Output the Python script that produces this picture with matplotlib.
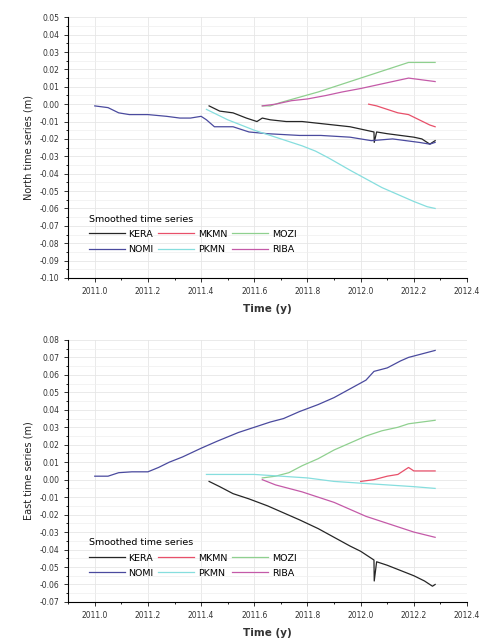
import numpy as np
import matplotlib.pyplot as plt
from matplotlib.ticker import MultipleLocator

# 数据: 平滑时间序列 (单位 m)
stations = ["KERA", "MKMN", "MOZI", "NOMI", "PKMN", "RIBA"]
colors = ["#262626", "#e8506a", "#8fd08f", "#4a4a9e", "#86dede", "#c45aa8"]

# ---- North ----
n_kera_t = [2011.43, 2011.47, 2011.52, 2011.57, 2011.61, 2011.63, 2011.66, 2011.72, 2011.78, 2011.84, 2011.90,
            2011.96, 2012.02, 2012.05, 2012.051, 2012.06, 2012.10, 2012.15, 2012.20, 2012.23, 2012.26, 2012.28]
n_kera_v = [-0.001, -0.004, -0.005, -0.008, -0.010, -0.008, -0.009, -0.010, -0.010, -0.011, -0.012,
            -0.013, -0.015, -0.016, -0.022, -0.016, -0.017, -0.018, -0.019, -0.020, -0.023, -0.021]
n_mkmn_t = [2012.03, 2012.06, 2012.10, 2012.14, 2012.18, 2012.22, 2012.26, 2012.28]
n_mkmn_v = [0.000, -0.001, -0.003, -0.005, -0.006, -0.009, -0.012, -0.013]
n_mozi_t = [2011.63, 2011.66, 2011.70, 2011.77, 2011.84, 2011.90, 2011.96, 2012.02, 2012.08, 2012.14, 2012.18, 2012.23, 2012.28]
n_mozi_v = [-0.001, -0.001, 0.001, 0.004, 0.007, 0.010, 0.013, 0.016, 0.019, 0.022, 0.024, 0.024, 0.024]
n_nomi_t = [2011.00, 2011.05, 2011.09, 2011.13, 2011.20, 2011.27, 2011.32, 2011.36, 2011.40, 2011.42, 2011.45,
            2011.52, 2011.58, 2011.65, 2011.77, 2011.85, 2011.96, 2012.04, 2012.12, 2012.22, 2012.26, 2012.28]
n_nomi_v = [-0.001, -0.002, -0.005, -0.006, -0.006, -0.007, -0.008, -0.008, -0.007, -0.009, -0.013,
            -0.013, -0.016, -0.017, -0.018, -0.018, -0.019, -0.021, -0.020, -0.022, -0.023, -0.022]
n_pkmn_t = [2011.42, 2011.46, 2011.50, 2011.55, 2011.60, 2011.66, 2011.72, 2011.78, 2011.83, 2011.88,
            2011.96, 2012.02, 2012.08, 2012.14, 2012.20, 2012.25, 2012.28]
n_pkmn_v = [-0.003, -0.006, -0.009, -0.012, -0.015, -0.018, -0.021, -0.024, -0.027, -0.031,
            -0.038, -0.043, -0.048, -0.052, -0.056, -0.059, -0.060]
n_riba_t = [2011.63, 2011.68, 2011.74, 2011.80, 2011.87, 2011.93, 2012.00, 2012.06, 2012.12, 2012.18, 2012.23, 2012.28]
n_riba_v = [-0.001, 0.000, 0.002, 0.003, 0.005, 0.007, 0.009, 0.011, 0.013, 0.015, 0.014, 0.013]

# ---- East ----
e_kera_t = [2011.43, 2011.47, 2011.52, 2011.58, 2011.65, 2011.71, 2011.77, 2011.84, 2011.90, 2011.96, 2012.00,
            2012.05, 2012.051, 2012.06, 2012.10, 2012.15, 2012.20, 2012.24, 2012.27, 2012.28]
e_kera_v = [-0.001, -0.004, -0.008, -0.011, -0.015, -0.019, -0.023, -0.028, -0.033, -0.038, -0.041,
            -0.046, -0.058, -0.047, -0.049, -0.052, -0.055, -0.058, -0.061, -0.060]
e_mkmn_t = [2012.00, 2012.05, 2012.10, 2012.14, 2012.18, 2012.20, 2012.24, 2012.28]
e_mkmn_v = [-0.001, 0.000, 0.002, 0.003, 0.007, 0.005, 0.005, 0.005]
e_mozi_t = [2011.63, 2011.68, 2011.73, 2011.78, 2011.84, 2011.90, 2011.96, 2012.02, 2012.08, 2012.14, 2012.18, 2012.23, 2012.28]
e_mozi_v = [0.001, 0.002, 0.004, 0.008, 0.012, 0.017, 0.021, 0.025, 0.028, 0.030, 0.032, 0.033, 0.034]
e_nomi_t = [2011.00, 2011.05, 2011.09, 2011.14, 2011.20, 2011.24, 2011.28, 2011.33, 2011.40, 2011.46, 2011.54,
            2011.58, 2011.62, 2011.66, 2011.71, 2011.77, 2011.84, 2011.90, 2011.96, 2012.02, 2012.05,
            2012.10, 2012.15, 2012.18, 2012.23, 2012.28]
e_nomi_v = [0.002, 0.002, 0.004, 0.0045, 0.0045, 0.007, 0.010, 0.013, 0.018, 0.022, 0.027,
            0.029, 0.031, 0.033, 0.035, 0.039, 0.043, 0.047, 0.052, 0.057, 0.062,
            0.064, 0.068, 0.070, 0.072, 0.074]
e_pkmn_t = [2011.42, 2011.50, 2011.60, 2011.70, 2011.80, 2011.90, 2012.00, 2012.10, 2012.20, 2012.28]
e_pkmn_v = [0.003, 0.003, 0.003, 0.002, 0.001, -0.001, -0.002, -0.003, -0.004, -0.005]
e_riba_t = [2011.63, 2011.68, 2011.73, 2011.78, 2011.84, 2011.90, 2011.96, 2012.02, 2012.08, 2012.14, 2012.20, 2012.28]
e_riba_v = [0.000, -0.003, -0.005, -0.007, -0.010, -0.013, -0.017, -0.021, -0.024, -0.027, -0.030, -0.033]

north = [(n_kera_t, n_kera_v), (n_mkmn_t, n_mkmn_v), (n_mozi_t, n_mozi_v),
         (n_nomi_t, n_nomi_v), (n_pkmn_t, n_pkmn_v), (n_riba_t, n_riba_v)]
east = [(e_kera_t, e_kera_v), (e_mkmn_t, e_mkmn_v), (e_mozi_t, e_mozi_v),
        (e_nomi_t, e_nomi_v), (e_pkmn_t, e_pkmn_v), (e_riba_t, e_riba_v)]

fig = plt.figure(figsize=(4.8, 6.39), dpi=100)
ax1 = fig.add_axes([0.142, 0.565, 0.831, 0.408])
ax2 = fig.add_axes([0.142, 0.058, 0.831, 0.410])


def style_axis(ax, series, ylim, ylabel):
    lines = []
    for (t, v), name, c in zip(series, stations, colors):
        ln, = ax.plot(t, v, color=c, lw=0.9, label=name)
        lines.append(ln)
    ax.set_xlim(2010.9, 2012.4)
    ax.set_ylim(*ylim)
    ax.xaxis.set_major_locator(MultipleLocator(0.2))
    ax.xaxis.set_minor_locator(MultipleLocator(0.1))
    ax.yaxis.set_major_locator(MultipleLocator(0.01))
    ax.yaxis.set_minor_locator(MultipleLocator(0.005))
    ax.xaxis.set_major_formatter(plt.FuncFormatter(lambda x, p: f"{x:.1f}"))
    ax.yaxis.set_major_formatter(plt.FuncFormatter(lambda y, p: f"{y:.2f}"))
    ax.spines["top"].set_visible(False)
    ax.spines["right"].set_visible(False)
    ax.tick_params(labelsize=5.5, length=3, width=0.7, colors="#333333")
    ax.tick_params(which="minor", length=1.5, width=0.6)
    ax.grid(which="major", color="#e6e6e6", lw=0.6)
    ax.grid(which="minor", axis="y", color="#efefef", lw=0.5)
    ax.set_axisbelow(True)
    ax.set_ylabel(ylabel, fontsize=7, color="#222222")
    ax.set_xlabel("Time (y)", fontsize=7.5, fontweight="bold", color="#333333", labelpad=6)
    # 图例按行排列: KERA MKMN MOZI / NOMI PKMN RIBA
    order = [0, 3, 1, 4, 2, 5]
    leg = ax.legend([lines[i] for i in order], [stations[i] for i in order],
                    title="Smoothed time series", ncol=3, frameon=False, fontsize=6.8,
                    title_fontsize=6.8, loc="lower left", bbox_to_anchor=(0.03, 0.06),
                    handlelength=3.8, columnspacing=0.5, labelspacing=0.65, handletextpad=0.4)
    leg._legend_box.align = "left"


style_axis(ax1, north, (-0.10, 0.05), "North time series (m)")
style_axis(ax2, east, (-0.07, 0.08), "East time series (m)")

fig.savefig("out.png", dpi=100)
